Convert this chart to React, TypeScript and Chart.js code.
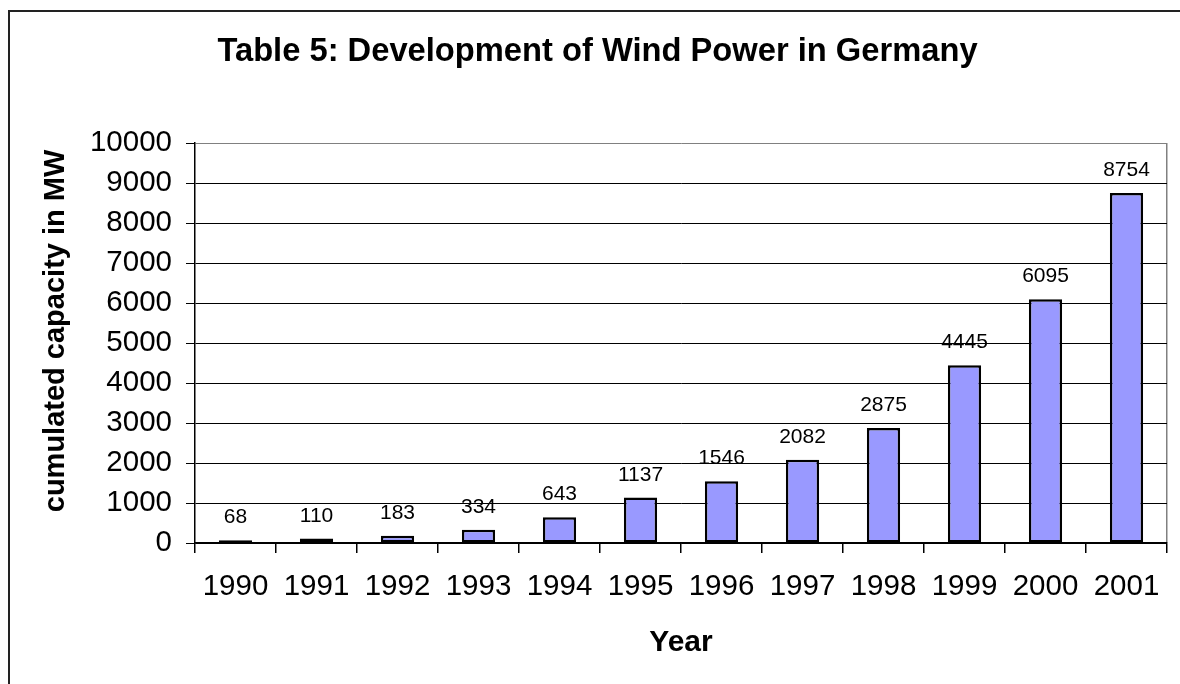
import React, { useEffect, useRef } from "react";
import { Chart, registerables } from "chart.js";

Chart.register(...registerables);

const titleText = "Table 5: Development of Wind Power in Germany";
const xTitle = "Year";
const yTitle = "cumulated capacity in MW";
const years = ["1990", "1991", "1992", "1993", "1994", "1995", "1996", "1997", "1998", "1999", "2000", "2001"];
const capacity = [68, 110, 183, 334, 643, 1137, 1546, 2082, 2875, 4445, 6095, 8754];
const yMin = 0;
const yMax = 10000;
const yStep = 1000;

const FONT = "'Liberation Sans', Arial, sans-serif";

const dataLabels = {
  id: "dataLabels",
  afterDatasetsDraw(chart: any) {
    const ctx = chart.ctx;
    const meta = chart.getDatasetMeta(0);
    const ds = chart.data.datasets[0];
    ctx.save();
    ctx.font = `21px ${FONT}`;
    ctx.fillStyle = "#000";
    ctx.textAlign = "center";
    ctx.textBaseline = "alphabetic";
    meta.data.forEach((el: any, i: number) => {
      ctx.fillText(String(ds.data[i]), el.x, el.y - 17);
    });
    ctx.restore();
  },
};

export default function App() {
  const ref = useRef<HTMLCanvasElement | null>(null);

  useEffect(() => {
    if (!ref.current) return;
    const chart = new Chart(ref.current, {
      type: "bar",
      data: {
        labels: years,
        datasets: [
          {
            data: capacity,
            backgroundColor: "#9999FF",
            borderColor: "#000",
            borderWidth: 2.5,
            borderSkipped: false,
            barPercentage: 0.41,
            categoryPercentage: 1,
          },
        ],
      },
      options: {
        responsive: false,
        animation: false,
        layout: { padding: { left: 28, right: 13, top: 0, bottom: 0 } },
        plugins: {
          legend: { display: false },
          tooltip: { enabled: false },
          title: {
            display: true,
            text: titleText,
            color: "#000",
            font: { family: FONT, size: 32.7, weight: "bold" },
            padding: { top: 32.4, bottom: 71.4 },
          },
        },
        scales: {
          x: {
            afterFit: (s: any) => {
              s.height = 141;
            },
            grid: {
              offset: true,
              drawOnChartArea: true,
              color: (c: any) => (c.type === "scale" ? "#808080" : "rgba(0,0,0,0)"),
              tickColor: "#000",
              tickLength: 10,
              lineWidth: 1.5,
            },
            border: { display: true, color: "#000", width: 1.5 },
            ticks: {
              color: "#000",
              padding: 16,
              maxRotation: 0,
              autoSkip: false,
              font: { family: FONT, size: 29.5 },
            },
            title: {
              display: true,
              text: xTitle,
              color: "#000",
              font: { family: FONT, size: 30, weight: "bold" },
              padding: { top: 0, bottom: 23.4 },
            },
          },
          y: {
            min: yMin,
            max: yMax,
            afterFit: (s: any) => {
              s.width = 167;
            },
            grid: {
              color: (c: any) => (c.tick && c.tick.value === yMax ? "#808080" : "#000"),
              tickColor: "#000",
              tickLength: 9,
              lineWidth: 1,
            },
            border: { display: true, color: "#000", width: 1.5 },
            ticks: {
              stepSize: yStep,
              color: "#000",
              padding: 14,
              font: { family: FONT, size: 29.5 },
              callback: (v: any) => String(v),
            },
            title: {
              display: true,
              text: "   " + yTitle,
              color: "#000",
              font: { family: FONT, size: 29, weight: "bold" },
              padding: { top: 10.6, bottom: 0 },
            },
          },
        },
      },
      plugins: [dataLabels],
    });
    return () => chart.destroy();
  }, []);

  return (
    <div style={{ position: "absolute", left: 0, top: 0, width: 1180, height: 684, background: "#fff", overflow: "hidden" }}>
      <canvas ref={ref} width={1180} height={684} style={{ display: "block", width: 1180, height: 684 }} />
      <div
        style={{
          position: "absolute",
          left: 8,
          top: 10,
          width: 1200,
          height: 700,
          borderLeft: "2px solid #222",
          borderTop: "2px solid #222",
          pointerEvents: "none",
        }}
      />
    </div>
  );
}
